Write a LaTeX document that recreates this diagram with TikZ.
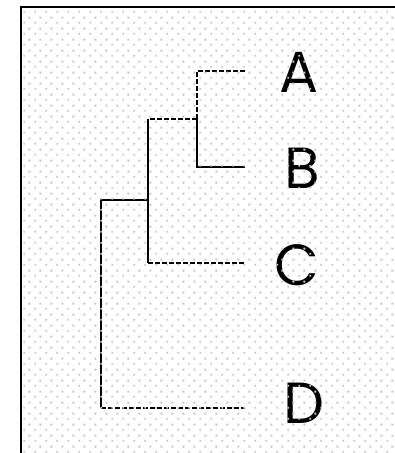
\documentclass[tikz,border=0pt]{standalone}
\usepackage{fontspec}
\setmainfont{Poppins}
\usetikzlibrary{patterns.meta}
\tikzdeclarepattern{
  name=gdots, type=uncolored,
  bottom left={(0pt,0pt)}, top right={(11pt,11pt)},
  tile size={(11pt,11pt)},
  code={\fill (1.5pt,1.5pt) rectangle (3.5pt,3.5pt);
        \fill (7pt,7pt) rectangle (9pt,9pt);}
}
\tikzset{br/.style={line width=1.4pt},
  brd/.style={br, dash pattern=on 5pt off 2pt},
  leaf/.style={anchor=base, inner sep=0pt, font=\fontsize{58}{60}\selectfont}}

\begin{document}
\begin{tikzpicture}[x=1pt,y=-1pt]
  \useasboundingbox (0,0) rectangle (395,453);
  % tree points
  \coordinate (a) at (245,71);
  \coordinate (b) at (245,167);
  \coordinate (c) at (245,263);
  \coordinate (d) at (245,408);
  \coordinate (ab) at (197,119);
  \coordinate (abc) at (148,200);
  \coordinate (root) at (101,304);
  % branches
  \draw[brd] (a) -- (a-|ab) -- (ab);
  \draw[br] (ab) -- (b-|ab) -- (b);
  \draw[brd] (ab) -- (ab-|abc);
  \draw[br] (ab-|abc) -- (abc);
  \draw[br] (abc) -- (c-|abc);
  \draw[brd] (c-|abc) -- (c);
  \draw[br] (abc) -- (abc-|root) -- (d-|root);
  \draw[brd] (d-|root) -- (d);
  % labels
  \node[leaf] (la) at (299,92) {A};
  \node[leaf] (lb) at (302,188) {B};
  \node[leaf] (lc) at (297,285) {C};
  \node[leaf] (ld) at (304,423) {D};
  % dotted backdrop and frame
  \fill[pattern={gdots}, pattern color=black!22] (21,7) rectangle (395,453);
  \draw[line width=2pt] (21,453) -- (21,7) -- (395,7);
\end{tikzpicture}
\end{document}
